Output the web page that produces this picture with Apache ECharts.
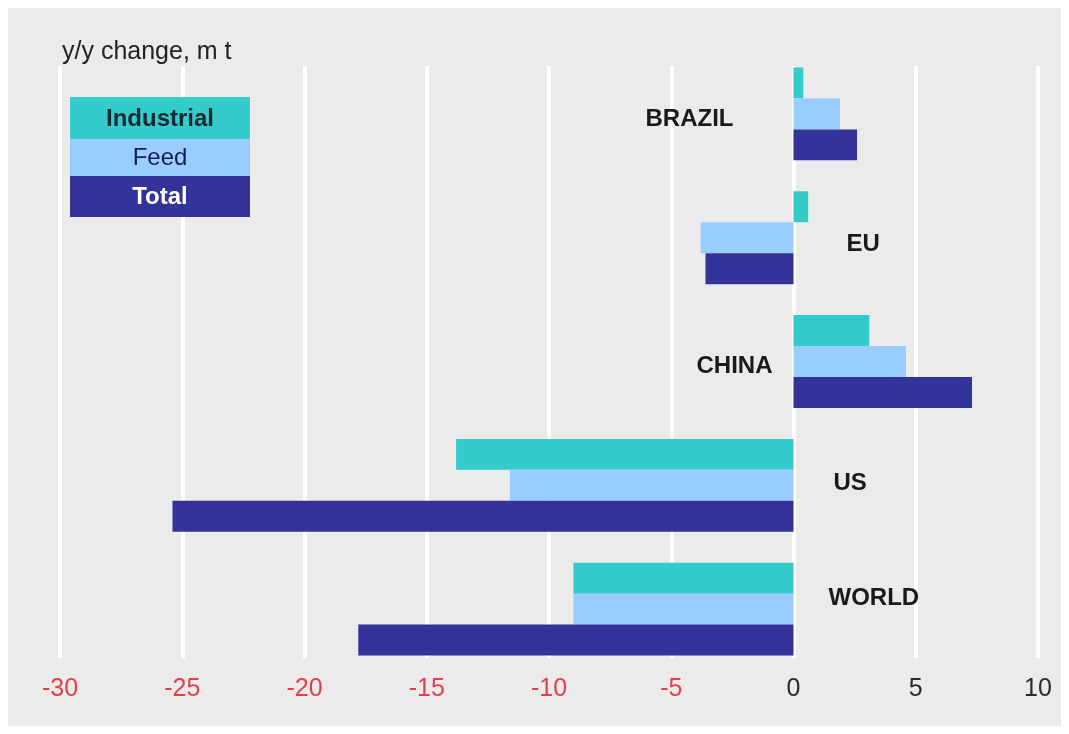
<!DOCTYPE html>
<html>
<head>
<meta charset="utf-8">
<style>
  html, body { margin: 0; padding: 0; background: #ffffff; }
  #chart { width: 1069px; height: 734px; }
</style>
<script src="https://cdn.jsdelivr.net/npm/echarts@6/dist/echarts.min.js"></script>
</head>
<body>
<div id="chart"></div>
<script>
// Year-on-year change in use, million tonnes
const regions = ['BRAZIL', 'EU', 'CHINA', 'US', 'WORLD'];
const industrial = [0.4, 0.6, 3.1, -13.8, -9.0];
const feed = [1.9, -3.8, 4.6, -11.6, -9.0];
const total = [2.6, -3.6, 7.3, -25.4, -17.8];
const seriesNames = ['Industrial', 'Feed', 'Total'];
const xTicks = [-30, -25, -20, -15, -10, -5, 0, 5, 10];
const unitLabel = 'y/y change, m t';

const colors = { Industrial: '#35cbcb', Feed: '#99ccff', Total: '#333399' };
const arial = '"Liberation Sans", Arial, sans-serif';

// where each region name sits relative to the zero line
const namePlacement = {
  BRAZIL: { position: 'left', distance: 60, offset: [0, 5] },
  EU: { position: 'right', distance: 53, offset: [0, 7] },
  CHINA: { position: 'left', distance: 21, offset: [0, 5] },
  US: { position: 'right', distance: 40, offset: [0, -2] },
  WORLD: { position: 'right', distance: 35, offset: [0, -11] }
};

const chart = echarts.init(document.getElementById('chart'), null, { renderer: 'canvas' });

const xMin = xTicks[0], xMax = xTicks[xTicks.length - 1];
const step = xTicks[1] - xTicks[0];

const valueSets = [industrial, feed, total];

const option = {
  backgroundColor: '#ffffff',
  animation: false,
  grid: [
    // white vertical gridlines
    { left: 60, right: 31, top: 66, bottom: 76 },
    // bars
    { left: 60, right: 31, top: 52, bottom: 63 }
  ],
  xAxis: [
    {
      gridIndex: 0, type: 'value', min: xMin, max: xMax, interval: step,
      axisLine: { show: false }, axisTick: { show: false }, axisLabel: { show: false },
      splitLine: { show: true, lineStyle: { color: '#ffffff', width: 4 } }
    },
    {
      gridIndex: 1, type: 'value', min: xMin, max: xMax, interval: step,
      axisLine: { show: false }, axisTick: { show: false },
      splitLine: { show: false },
      axisLabel: {
        margin: 6,
        fontFamily: arial,
        fontSize: 25,
        color: function (v) { return v < 0 ? '#e3404c' : '#2a2a2a'; }
      }
    }
  ],
  yAxis: [
    {
      gridIndex: 0, type: 'category', data: regions, inverse: true, show: false
    },
    {
      gridIndex: 1, type: 'category', data: regions, inverse: true,
      axisLine: { show: false }, axisTick: { show: false }, axisLabel: { show: false },
      splitLine: { show: false }
    }
  ],
  graphic: [
    {
      type: 'rect', z: -10, silent: true,
      shape: { x: 8, y: 8, width: 1053, height: 718 },
      style: { fill: '#ebebeb' }
    },
    {
      type: 'text', left: 62, top: 40, z: 10,
      style: { text: unitLabel, font: '25px ' + arial, fill: '#222222' }
    },
    // legend box
    { type: 'rect', z: 10, shape: { x: 70, y: 97, width: 180, height: 42 }, style: { fill: colors.Industrial } },
    { type: 'rect', z: 10, shape: { x: 70, y: 139, width: 180, height: 37 }, style: { fill: colors.Feed } },
    { type: 'rect', z: 10, shape: { x: 70, y: 176, width: 180, height: 41 }, style: { fill: colors.Total } },
    {
      type: 'text', z: 11, x: 160, y: 119,
      style: { text: seriesNames[0], font: 'bold 24px ' + arial, fill: '#102a33', align: 'center', verticalAlign: 'middle' }
    },
    {
      type: 'text', z: 11, x: 160, y: 158,
      style: { text: seriesNames[1], font: '24px ' + arial, fill: '#15204a', align: 'center', verticalAlign: 'middle' }
    },
    {
      type: 'text', z: 11, x: 160, y: 197,
      style: { text: seriesNames[2], font: 'bold 24px ' + arial, fill: '#ffffff', align: 'center', verticalAlign: 'middle' }
    }
  ],
  series: seriesNames.map(function (name, i) {
    return {
      name: name,
      type: 'bar',
      xAxisIndex: 1,
      yAxisIndex: 1,
      data: valueSets[i],
      barGap: '0%',
      barCategoryGap: '25%',
      itemStyle: { color: colors[name] },
      z: 3
    };
  }).concat([{
    type: 'scatter',
    xAxisIndex: 1,
    yAxisIndex: 1,
    symbolSize: 0,
    silent: true,
    z: 5,
    itemStyle: { opacity: 1 },
    data: regions.map(function (r) {
      const p = namePlacement[r];
      return {
        value: [0, r],
        label: {
          show: true,
          formatter: r,
          position: p.position,
          distance: p.distance,
          offset: p.offset,
          fontFamily: arial,
          fontWeight: 'bold',
          fontSize: 24,
          color: '#1a1a1a'
        }
      };
    })
  }])
};

chart.setOption(option);
</script>
</body>
</html>
